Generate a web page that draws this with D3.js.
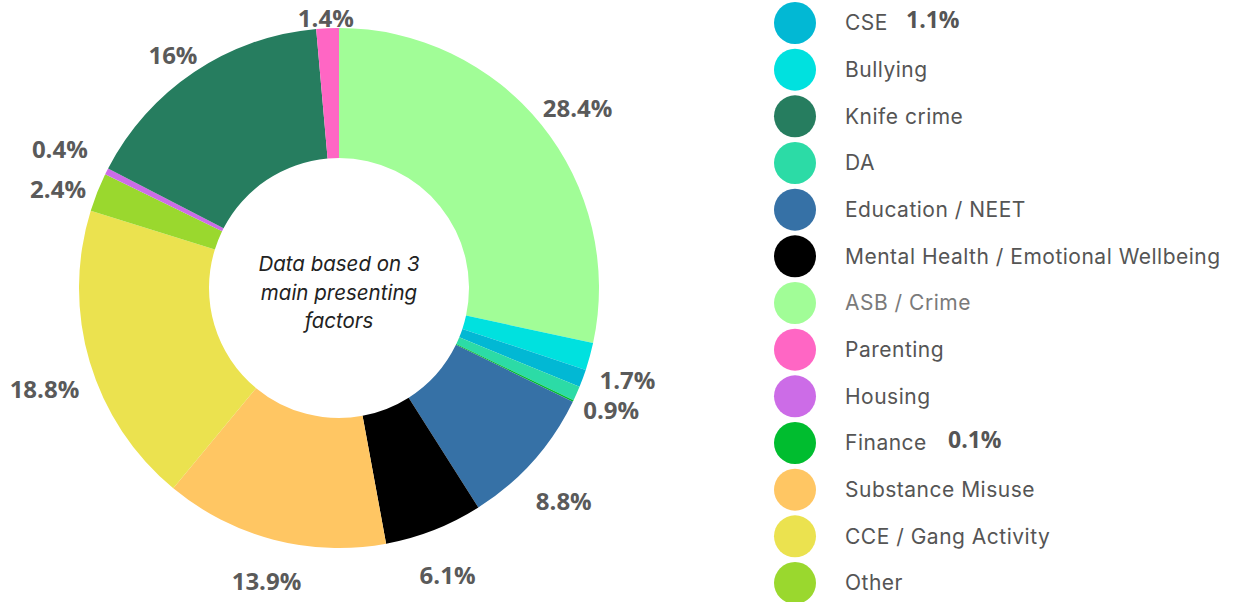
<!DOCTYPE html>
<html>
<head>
<meta charset="utf-8">
<script src="https://cdn.jsdelivr.net/npm/d3@7"></script>
<style>
  body { margin: 0; background: #fff; }
</style>
</head>
<body>
<script>
const width = 1234, height = 602;

// slices in drawing order, clockwise from 12 o'clock
const sliceNames = ["ASB / Crime", "Bullying", "CSE", "DA", "Finance", "Education / NEET",
  "Mental Health / Emotional Wellbeing", "Substance Misuse", "CCE / Gang Activity",
  "Other", "Housing", "Knife crime", "Parenting"];
const sliceValues = [28.4, 1.7, 1.1, 0.9, 0.1, 8.8, 6.1, 13.9, 18.8, 2.4, 0.4, 16, 1.4];
const sliceLabels = ["28.4%", "1.7%", "", "0.9%", "", "8.8%", "6.1%", "13.9%", "18.8%", "2.4%", "0.4%", "16%", "1.4%"];
// small nudges so labels don't collide
const labelNudge = [[5, 8], [-1, 12], [0, 0], [-2, 0], [0, 0], [1, 13], [-1, 7], [3, 2], [-7, 15], [-2, 11], [-11, -5], [1, 16], [0, 29]];

// legend, top to bottom
const legendNames = ["CSE", "Bullying", "Knife crime", "DA", "Education / NEET",
  "Mental Health / Emotional Wellbeing", "ASB / Crime", "Parenting", "Housing",
  "Finance", "Substance Misuse", "CCE / Gang Activity", "Other"];
const legendExtra = {"CSE": "1.1%", "Finance": "0.1%"};

const colors = {
  "CSE": "#02b8d4",
  "Bullying": "#00e1df",
  "Knife crime": "#267d5f",
  "DA": "#2cdba6",
  "Education / NEET": "#3671a6",
  "Mental Health / Emotional Wellbeing": "#000000",
  "ASB / Crime": "#a1fd97",
  "Parenting": "#ff66c4",
  "Housing": "#cc6ce7",
  "Finance": "#00bd2f",
  "Substance Misuse": "#ffc663",
  "CCE / Gang Activity": "#ebe24f",
  "Other": "#9ad82e"
};

const cx = 339, cy = 288, outerR = 260, innerR = 130, labelR = 300;

const svg = d3.create("svg")
    .attr("width", width)
    .attr("height", height)
    .attr("viewBox", [0, 0, width, height]);

document.body.appendChild(svg.node());

const pie = d3.pie().sort(null).value(d => d.value);
const arc = d3.arc().innerRadius(innerR).outerRadius(outerR);
const labelArc = d3.arc().innerRadius(labelR).outerRadius(labelR);

const data = sliceNames.map((n, i) => ({name: n, value: sliceValues[i], label: sliceLabels[i], nudge: labelNudge[i]}));
const arcs = pie(data);

const g = svg.append("g").attr("transform", `translate(${cx},${cy})`);

g.selectAll("path")
    .data(arcs)
    .join("path")
    .attr("d", arc)
    .attr("fill", d => colors[d.data.name]);

g.selectAll("text.pct")
    .data(arcs.filter(d => d.data.label))
    .join("text")
    .attr("class", "pct")
    .attr("x", d => labelArc.centroid(d)[0] + d.data.nudge[0])
    .attr("y", d => labelArc.centroid(d)[1] + d.data.nudge[1])
    .attr("text-anchor", "middle")
    .attr("dominant-baseline", "central")
    .attr("font-family", "'Open Sans', sans-serif")
    .attr("font-weight", "bold")
    .attr("font-size", 24)
    .attr("fill", "#5a5a5a")
    .text(d => d.data.label);

// centre note
const note = ["Data based on 3", "main presenting", "factors"];
g.append("text")
    .attr("text-anchor", "middle")
    .attr("font-family", "Inter, sans-serif")
    .attr("font-style", "italic")
    .attr("font-size", 20.5)
    .attr("fill", "#222")
    .selectAll("tspan")
    .data(note)
    .join("tspan")
    .attr("x", 0)
    .attr("y", (d, i) => -17 + i * 28.5)
    .text(d => d);

// legend
const ly = d3.scalePoint().domain(legendNames).range([23, 583]);
const leg = svg.append("g").selectAll("g")
    .data(legendNames)
    .join("g")
    .attr("transform", d => `translate(795,${ly(d)})`);

leg.append("circle")
    .attr("r", 21)
    .attr("fill", d => colors[d]);

leg.append("text")
    .attr("x", 50)
    .attr("dy", "0.35em")
    .attr("font-family", "Inter, sans-serif")
    .attr("font-size", 21)
    .attr("letter-spacing", 0.5)
    .attr("fill", d => d === "ASB / Crime" ? "#7a7a7a" : "#555")
    .text(d => d);

leg.filter(d => legendExtra[d])
    .append("text")
    .attr("x", d => d === "CSE" ? 111 : 153)
    .attr("y", -3)
    .attr("dy", "0.35em")
    .attr("font-family", "'Open Sans', sans-serif")
    .attr("font-weight", "bold")
    .attr("font-size", 23)
    .attr("fill", "#555")
    .text(d => legendExtra[d]);
</script>
</body>
</html>
